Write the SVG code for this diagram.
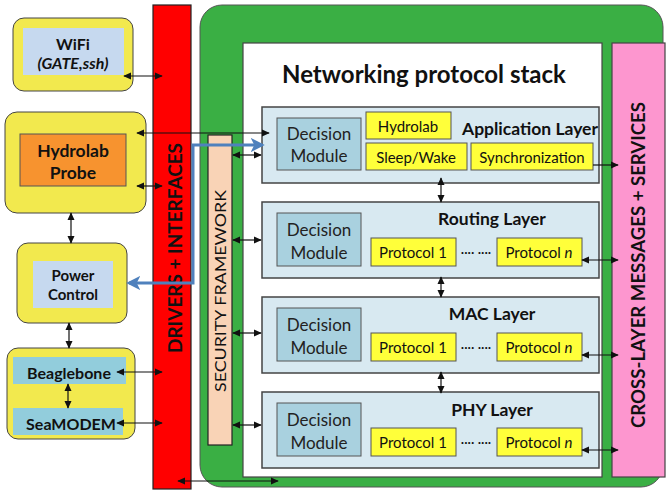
<svg xmlns="http://www.w3.org/2000/svg" width="666" height="491" viewBox="0 0 666 491">
<style>
text{font-family:Lato,"Open Sans","Liberation Sans",sans-serif;fill:#111;text-anchor:middle;dominant-baseline:central}
.b{font-weight:bold}
.ln{stroke:#111;stroke-width:1.2;fill:none}
.dbl{marker-start:url(#ah);marker-end:url(#ah)}
.one{marker-end:url(#ah)}
.outer{fill:#f2e94e;stroke:#444;stroke-width:1}
.layer{fill:#d8e9f1;stroke:#444;stroke-width:1.5}
.dm{fill:#a9d1df;stroke:#555;stroke-width:1}
.yb{fill:#ffff3a;stroke:#555;stroke-width:1}
.dmt{font-size:17px;fill:#222}
.pt{font-size:15px}
.lt{font-size:17.5px;font-weight:bold}
</style>
<defs>
<marker id="ah" viewBox="0 0 10 10" refX="9" refY="5" markerWidth="8" markerHeight="8" markerUnits="userSpaceOnUse" orient="auto-start-reverse"><path d="M0,0.5 L10,5 L0,9.5 z" fill="#111"/></marker>
<marker id="bh" viewBox="0 0 10 10" refX="8" refY="5" markerWidth="14" markerHeight="14" markerUnits="userSpaceOnUse" orient="auto-start-reverse"><path d="M0,0 L10,5 L0,10 L2.5,5 z" fill="#4f81bd"/></marker>
</defs>

<g id="left-wifi">
<rect class="outer" x="13" y="18" width="120" height="73" rx="11"/>
<rect x="23" y="28" width="101" height="47" fill="#c6d9ef"/>
<text class="b" x="73" y="43" font-size="16">WiFi</text>
<text class="b" x="73" y="62" font-size="16" font-style="italic">(GATE,ssh)</text>
</g>

<g id="left-hydrolab">
<rect class="outer" x="5" y="112" width="141" height="101" rx="12"/>
<rect x="20" y="134" width="106" height="52" fill="#f7932f" stroke="#555" stroke-width="1"/>
<text class="b" x="73" y="150" font-size="17.5">Hydrolab</text>
<text class="b" x="73" y="172" font-size="17.5">Probe</text>
</g>

<g id="left-power">
<rect class="outer" x="17" y="243" width="110" height="80" rx="11"/>
<rect x="33" y="261" width="80" height="47" fill="#c6d9ef"/>
<text class="b" x="73" y="275" font-size="15">Power</text>
<text class="b" x="73" y="294" font-size="15">Control</text>
</g>

<g id="left-beagle">
<rect class="outer" x="7" y="348" width="128" height="91" rx="11"/>
<rect x="13" y="357" width="113" height="27" fill="#92cddc"/>
<rect x="13" y="408" width="110" height="27" fill="#92cddc"/>
<text class="b" x="69" y="372" font-size="16">Beaglebone</text>
<text class="b" x="71" y="423" font-size="16">SeaMODEM</text>
</g>

<g id="drivers">
<rect x="153" y="5" width="38" height="484" fill="#ff0000" stroke="#222" stroke-width="1.2"/>
<text class="b" transform="translate(174,248) rotate(-90)" font-size="19" textLength="210" lengthAdjust="spacingAndGlyphs">DRIVERS + INTERFACES</text>
</g>

<g id="framework">
<rect x="200" y="5" width="463" height="482" rx="22" fill="#3aaf44" stroke="#555" stroke-width="1"/>
</g>

<g id="stack">
<rect x="243" y="43" width="359" height="434" fill="#ffffff" stroke="#444" stroke-width="1.2"/>
<text class="b" x="424" y="73" font-size="24">Networking protocol stack</text>
</g>

<g id="security">
<rect x="208" y="135" width="24" height="310" fill="#f9d3b6" stroke="#222" stroke-width="1.2"/>
<text transform="translate(220,291) rotate(-90)" font-size="15.5" textLength="202" lengthAdjust="spacingAndGlyphs">SECURITY FRAMEWORK</text>
</g>

<g id="crosslayer">
<rect x="612" y="43" width="53" height="434" fill="#fd96cf" stroke="#444" stroke-width="1.2"/>
<text class="b" transform="translate(637,265) rotate(-90)" font-size="19" textLength="326" lengthAdjust="spacingAndGlyphs">CROSS-LAYER MESSAGES + SERVICES</text>
</g>

<g id="app-layer">
<rect class="layer" x="262" y="107" width="337" height="76"/>
<rect class="dm" x="277" y="118" width="84" height="52"/>
<text class="dmt" x="319" y="133">Decision</text>
<text class="dmt" x="319" y="155">Module</text>
<rect class="yb" x="366" y="112" width="85" height="27"/>
<text class="pt" x="408" y="126">Hydrolab</text>
<rect class="yb" x="366" y="143" width="101" height="27"/>
<text class="pt" x="416" y="157">Sleep/Wake</text>
<rect class="yb" x="471" y="143" width="122" height="27"/>
<text class="pt" x="532" y="157">Synchronization</text>
<text class="lt" x="530" y="128">Application Layer</text>
</g>

<g id="routing-layer">
<rect class="layer" x="262" y="202" width="337" height="76"/>
<rect class="dm" x="277" y="213" width="84" height="53"/>
<text class="dmt" x="319" y="229">Decision</text>
<text class="dmt" x="319" y="252">Module</text>
<text class="lt" x="492" y="218">Routing Layer</text>
<rect class="yb" x="371" y="238" width="85" height="28"/>
<text class="pt" x="413" y="252">Protocol 1</text>
<text x="476" y="252" font-size="13">···· ····</text>
<rect class="yb" x="497" y="238" width="85" height="28"/>
<text class="pt" x="539" y="252">Protocol <tspan font-style="italic">n</tspan></text>
</g>

<g id="mac-layer">
<rect class="layer" x="262" y="297" width="337" height="76"/>
<rect class="dm" x="277" y="308" width="84" height="53"/>
<text class="dmt" x="319" y="324">Decision</text>
<text class="dmt" x="319" y="347">Module</text>
<text class="lt" x="492" y="313">MAC Layer</text>
<rect class="yb" x="371" y="333" width="85" height="28"/>
<text class="pt" x="413" y="347">Protocol 1</text>
<text x="476" y="347" font-size="13">···· ····</text>
<rect class="yb" x="497" y="333" width="85" height="28"/>
<text class="pt" x="539" y="347">Protocol <tspan font-style="italic">n</tspan></text>
</g>

<g id="phy-layer">
<rect class="layer" x="262" y="392" width="337" height="76"/>
<rect class="dm" x="277" y="403" width="84" height="53"/>
<text class="dmt" x="319" y="419">Decision</text>
<text class="dmt" x="319" y="442">Module</text>
<text class="lt" x="492" y="409">PHY Layer</text>
<rect class="yb" x="371" y="428" width="85" height="28"/>
<text class="pt" x="413" y="442">Protocol 1</text>
<text x="476" y="442" font-size="13">···· ····</text>
<rect class="yb" x="497" y="428" width="85" height="28"/>
<text class="pt" x="539" y="442">Protocol <tspan font-style="italic">n</tspan></text>
</g>

<g id="connectors">
<line class="ln dbl" x1="124" y1="76" x2="162" y2="76"/>
<line class="ln dbl" x1="137" y1="133" x2="269" y2="133"/>
<line class="ln dbl" x1="137" y1="186" x2="162" y2="186"/>
<line class="ln dbl" x1="71" y1="213" x2="71" y2="243"/>
<line class="ln dbl" x1="69" y1="323" x2="69" y2="348"/>
<line class="ln dbl" x1="68" y1="384" x2="68" y2="408"/>
<line class="ln dbl" x1="117" y1="372" x2="162" y2="372"/>
<line class="ln dbl" x1="117" y1="423" x2="162" y2="423"/>
<line class="ln dbl" x1="178" y1="481" x2="278" y2="481"/>
<line class="ln dbl" x1="233" y1="155" x2="261" y2="155"/>
<line class="ln dbl" x1="233" y1="240" x2="261" y2="240"/>
<line class="ln dbl" x1="233" y1="333" x2="261" y2="333"/>
<line class="ln dbl" x1="233" y1="425" x2="261" y2="425"/>
<line class="ln dbl" x1="441" y1="178" x2="441" y2="202"/>
<line class="ln dbl" x1="441" y1="277" x2="441" y2="297"/>
<line class="ln dbl" x1="441" y1="372" x2="441" y2="393"/>
<line class="ln one" x1="593" y1="165" x2="618" y2="165"/>
<line class="ln dbl" x1="582" y1="260" x2="618" y2="260"/>
<line class="ln dbl" x1="582" y1="355" x2="618" y2="355"/>
<line class="ln dbl" x1="582" y1="450" x2="618" y2="450"/>
<polyline points="262,145 193,145 193,283 129,283" fill="none" stroke="#4f81bd" stroke-width="3" marker-start="url(#bh)" marker-end="url(#bh)"/>
</g>
</svg>
